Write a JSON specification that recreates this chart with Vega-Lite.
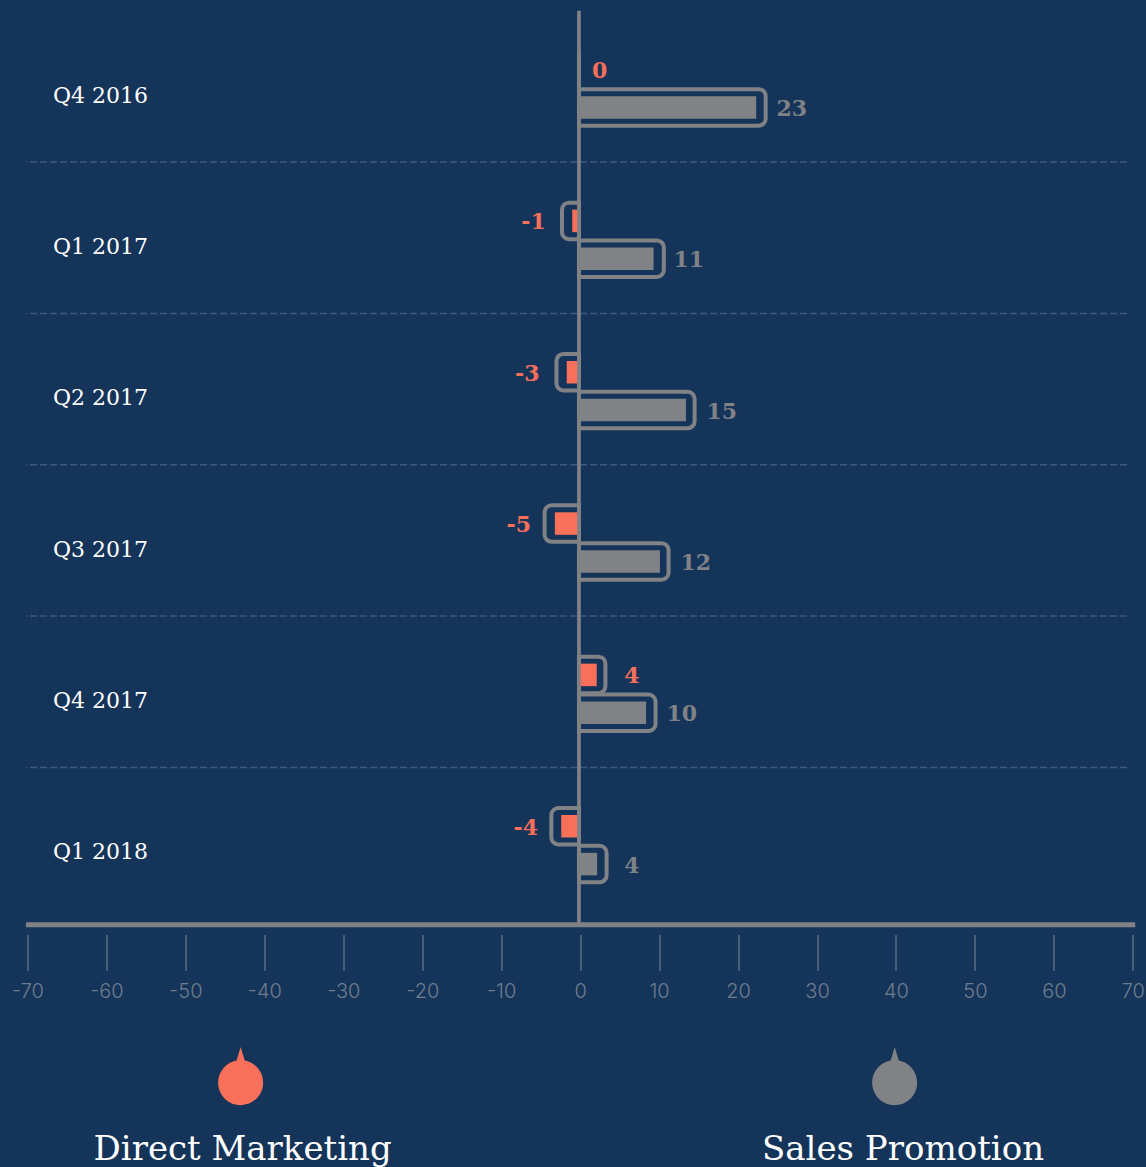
{"$schema":"https://vega.github.io/schema/vega-lite/v6.json","autosize":{"type":"none"},"padding":{"left":27.5,"top":10.7,"right":13.2,"bottom":242.5},"width":1105.3,"height":913.8,"background":"#15345a","config":{"view":{"stroke":null},"font":"DejaVu Serif"},
"datasets":{"bars":[
{"quarter":"Q4 2016","series":"Direct Marketing","value":0,"bar":0,"frame":-0.15,"labelPos":2.48},
{"quarter":"Q4 2016","series":"Sales Promotion","value":23,"bar":22.3,"frame":23.5,"labelPos":26.8},
{"quarter":"Q1 2017","series":"Direct Marketing","value":-1,"bar":-1.0,"frame":-2.3,"labelPos":-5.9},
{"quarter":"Q1 2017","series":"Sales Promotion","value":11,"bar":9.3,"frame":10.6,"labelPos":13.76},
{"quarter":"Q2 2017","series":"Direct Marketing","value":-3,"bar":-1.7,"frame":-3.0,"labelPos":-6.7},
{"quarter":"Q2 2017","series":"Sales Promotion","value":15,"bar":13.4,"frame":14.5,"labelPos":17.93},
{"quarter":"Q3 2017","series":"Direct Marketing","value":-5,"bar":-3.2,"frame":-4.5,"labelPos":-7.78},
{"quarter":"Q3 2017","series":"Sales Promotion","value":12,"bar":10.1,"frame":11.2,"labelPos":14.64},
{"quarter":"Q4 2017","series":"Direct Marketing","value":4,"bar":2.1,"frame":3.2,"labelPos":6.54},
{"quarter":"Q4 2017","series":"Sales Promotion","value":10,"bar":8.35,"frame":9.55,"labelPos":12.87},
{"quarter":"Q1 2018","series":"Direct Marketing","value":-4,"bar":-2.4,"frame":-3.65,"labelPos":-6.89},
{"quarter":"Q1 2018","series":"Sales Promotion","value":4,"bar":2.15,"frame":3.35,"labelPos":6.54}],
"seps":[{"quarter":"Q4 2016","a":-70.19,"b":69.27},{"quarter":"Q1 2017","a":-70.19,"b":69.27},{"quarter":"Q2 2017","a":-70.19,"b":69.27},{"quarter":"Q3 2017","a":-70.19,"b":69.27},{"quarter":"Q4 2017","a":-70.19,"b":69.27}],
"base":[{"quarter":"Q1 2018","a":-70.2,"b":70.3}],
"zero":[{"v":-0.15}],
"legend":[{"quarter":"Q1 2018","series":"Direct Marketing","pin":-43.0,"textPos":-42.75},{"quarter":"Q1 2018","series":"Sales Promotion","pin":39.84,"textPos":40.9}]},
"encoding":{"y":{"field":"quarter","type":"nominal","title":null,"scale":{"domain":["Q4 2016","Q1 2017","Q2 2017","Q3 2017","Q4 2017","Q1 2018"],"paddingInner":0,"paddingOuter":0.019,"align":0,"round":false},"axis":{"orient":"left","domain":false,"ticks":false,"grid":false,"labelAlign":"left","labelPadding":-25,"labelOffset":9.2,"labelColor":"#ffffff","labelFont":"DejaVu Serif","labelFontSize":22,"labelFontWeight":"normal"}}},
"layer":[
{"data":{"name":"seps"},"mark":{"type":"rule","stroke":"#3d5a7c","strokeWidth":1.5,"strokeDash":[7,3],"strokeDashOffset":6},"encoding":{"x":{"field":"a","type":"quantitative","scale":{"domain":[-70,70],"nice":false,"zero":false},"title":null,"axis":{"values":[-70,-60,-50,-40,-30,-20,-10,0,10,20,30,40,50,60,70],"labelExpr":"replace(datum.label,'−','-')","domain":false,"grid":false,"offset":10,"tickSize":36,"tickColor":"#7d8894","tickWidth":1,"labelColor":"#6f7d8d","labelFont":"Inter","labelFontSize":20,"labelFontWeight":300,"labelPadding":11,"labelFlush":false,"labelOverlap":false,"labelBound":false}},"x2":{"field":"b"},"y":{"field":"quarter","type":"nominal","bandPosition":1}}},
{"data":{"name":"bars"},"transform":[{"filter":"datum.frame > 0"}],"mark":{"type":"bar","filled":false,"stroke":"#808285","strokeWidth":4,"height":36.5,"cornerRadiusTopRight":7,"cornerRadiusBottomRight":7},"encoding":{"x":{"field":"frame","type":"quantitative"},"x2":{"datum":-0.15},"yOffset":{"field":"series","type":"nominal","sort":["Direct Marketing","Sales Promotion"],"scale":{"domain":["Direct Marketing","Sales Promotion"],"paddingInner":0,"paddingOuter":1.229,"align":0.5276,"round":false}}}},
{"data":{"name":"bars"},"transform":[{"filter":"datum.frame <= 0"}],"mark":{"type":"bar","filled":false,"stroke":"#808285","strokeWidth":4,"height":36.5,"cornerRadiusTopLeft":7,"cornerRadiusBottomLeft":7},"encoding":{"x":{"field":"frame","type":"quantitative"},"x2":{"datum":-0.15},"yOffset":{"field":"series","type":"nominal","sort":["Direct Marketing","Sales Promotion"]}}},
{"data":{"name":"bars"},"mark":{"type":"bar","height":22.5},"encoding":{"x":{"field":"bar","type":"quantitative"},"yOffset":{"field":"series","type":"nominal","sort":["Direct Marketing","Sales Promotion"]},"color":{"field":"series","type":"nominal","legend":null,"scale":{"domain":["Direct Marketing","Sales Promotion"],"range":["#f9705a","#808285"]}}}},
{"data":{"name":"zero"},"mark":{"type":"rule","stroke":"#808285","strokeWidth":3.7},"encoding":{"x":{"field":"v","type":"quantitative"},"y":null}},
{"data":{"name":"base"},"mark":{"type":"rule","stroke":"#808285","strokeWidth":5,"yOffset":6},"encoding":{"x":{"field":"a","type":"quantitative"},"x2":{"field":"b"},"y":{"field":"quarter","type":"nominal","bandPosition":1}}},
{"data":{"name":"bars"},"mark":{"type":"text","fontWeight":"bold","fontSize":22,"font":"DejaVu Serif","baseline":"middle","align":"center","dy":1.5},"encoding":{"x":{"field":"labelPos","type":"quantitative"},"yOffset":{"field":"series","type":"nominal","sort":["Direct Marketing","Sales Promotion"]},"text":{"field":"value","type":"nominal"},"color":{"field":"series","type":"nominal","legend":null}}},
{"data":{"name":"legend"},"mark":{"type":"point","filled":true,"opacity":1,"size":8100,"shape":"M -0.09 -0.49 L 0 -0.79 L 0.09 -0.49 A 0.5 0.5 0 1 1 -0.09 -0.49 Z","yOffset":163.8},"encoding":{"x":{"field":"pin","type":"quantitative"},"y":{"field":"quarter","type":"nominal","bandPosition":1},"color":{"field":"series","type":"nominal","legend":null}}},
{"data":{"name":"legend"},"mark":{"type":"text","color":"#ffffff","fontSize":34,"font":"DejaVu Serif","fontWeight":"normal","baseline":"middle","align":"center","yOffset":231},"encoding":{"x":{"field":"textPos","type":"quantitative"},"y":{"field":"quarter","type":"nominal","bandPosition":1},"text":{"field":"series","type":"nominal"}}}
]}
